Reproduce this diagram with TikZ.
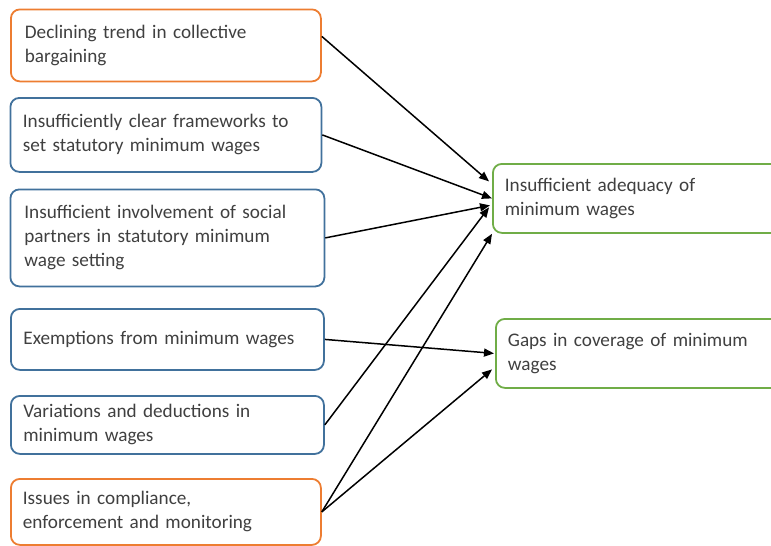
\documentclass[tikz,border=0pt]{standalone}
\usepackage{fontspec}
\setmainfont{Carlito}
\usetikzlibrary{arrows.meta,calc}
\definecolor{borange}{HTML}{ED7D31}
\definecolor{bblue}{HTML}{41719C}
\definecolor{bgreen}{HTML}{70AD47}
\definecolor{txt}{HTML}{404040}
\begin{document}
\begin{tikzpicture}[x=1pt,y=-1pt,
  box/.style={draw, line width=1.8pt, rounded corners=9pt, fill=white,
    text=txt, align=left, inner xsep=0pt, inner ysep=0pt,
    font=\fontsize{19.2}{24}\selectfont, anchor=north west},
  conn/.style={line width=1.5pt, -{Triangle[length=10pt,width=8pt]}}]
\useasboundingbox (0,0) rectangle (771,546);
\begin{scope}
\clip (0,0) rectangle (771,546);
% left boxes
\node[box, draw=borange, minimum width=310pt, minimum height=72pt, text width=282pt] (b1) at (10,8.5)
  {Declining trend in collective\\bargaining};
\node[box, draw=bblue, minimum width=311pt, minimum height=74pt, text width=286pt] (b2) at (9.5,97)
  {Insufficiently clear frameworks to\\set statutory minimum wages};
\node[box, draw=bblue, minimum width=314pt, minimum height=97pt, text width=286pt] (b3) at (9.5,188.5)
  {Insufficient involvement of social\\partners in statutory minimum\\wage setting};
\node[box, draw=bblue, minimum width=313pt, minimum height=61pt, text width=288pt] (b4) at (10,308)
  {Exemptions from minimum wages};
\node[box, draw=bblue, minimum width=313pt, minimum height=58pt, text width=288pt] (b5) at (10,395)
  {Variations and deductions in\\minimum wages};
\node[box, draw=borange, minimum width=310pt, minimum height=66pt, text width=286pt] (b6) at (10,478)
  {Issues in compliance,\\enforcement and monitoring};
% right boxes
\node[box, draw=bgreen, minimum width=300pt, minimum height=69pt, text width=276pt] (A) at (492,163)
  {Insufficient adequacy of\\minimum wages};
\node[box, draw=bgreen, minimum width=300pt, minimum height=69pt, text width=276pt] (B) at (495,318)
  {Gaps in coverage of minimum\\wages};
% connectors
\draw[conn] ([yshift=9pt]b1.east) -- ([xshift=-3pt,yshift=17pt]A.west);
\draw[conn] (b2.east) -- (A.west);
\draw[conn] (b3.east) -- ([xshift=-2pt,yshift=-7pt]A.west);
\draw[conn] (b5.east) -- ([xshift=-3pt,yshift=-9pt]A.west);
\draw[conn] (b6.east) -- (A.south west);
\draw[conn] (b4.east) -- ([xshift=-1pt]B.west);
\draw[conn] (b6.east) -- ([xshift=-3pt,yshift=-16pt]B.west);
\end{scope}
\end{tikzpicture}
\end{document}
